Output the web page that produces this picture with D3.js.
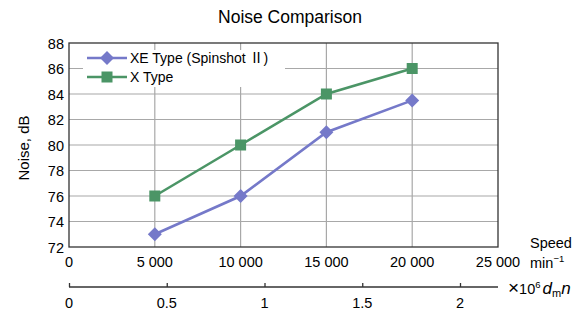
<!DOCTYPE html>
<html>
<head>
<meta charset="utf-8">
<script src="https://cdn.jsdelivr.net/npm/d3@7"></script>
<style>
  body { margin: 0; background: #fff; }
  svg { font-family: "Liberation Sans", Arial, sans-serif; }
</style>
</head>
<body>
<svg id="chart" width="585" height="313"></svg>
<script>
// data
const speeds = [5000, 10000, 15000, 20000];
const xeNoise = [73, 76, 81, 83.5];
const xNoise = [76, 80, 84, 86];
const speedTicks = [0, 5000, 10000, 15000, 20000, 25000];
const noiseTicks = [72, 74, 76, 78, 80, 82, 84, 86, 88];
const dmnTicks = [0, 0.5, 1, 1.5, 2];

const svg = d3.select('#chart');
const plotLeft = 69, plotRight = 498, plotTop = 43, plotBottom = 247;

const x = d3.scaleLinear().domain([0, 25000]).range([plotLeft, plotRight]);
const y = d3.scaleLinear().domain([72, 88]).range([plotBottom, plotTop]);
const x2 = d3.scaleLinear().domain([0, 2.2]).range([plotLeft, plotLeft + 2.2 * 195.5]);

const fmt = d => d3.format(',')(d).replace(',', ' ');

// title
svg.append('text')
    .attr('x', 290).attr('y', 23)
    .attr('text-anchor', 'middle')
    .attr('font-size', 17.5)
    .text('Noise Comparison');

// grid
svg.append('g').selectAll('line')
    .data(noiseTicks.slice(1, -1))
    .enter().append('line')
    .attr('x1', plotLeft).attr('x2', plotRight)
    .attr('y1', d => y(d)).attr('y2', d => y(d))
    .attr('stroke', '#a8a8a8').attr('stroke-width', 1.2);

svg.append('g').selectAll('line')
    .data(speedTicks.slice(1, -1))
    .enter().append('line')
    .attr('x1', d => x(d)).attr('x2', d => x(d))
    .attr('y1', plotTop).attr('y2', plotBottom)
    .attr('stroke', '#a8a8a8').attr('stroke-width', 1.2);

// legend box hides the grid behind it
svg.append('rect')
    .attr('x', 83).attr('y', 50)
    .attr('width', 202).attr('height', 37)
    .attr('fill', '#fff');

// frame
svg.append('rect')
    .attr('x', plotLeft).attr('y', plotTop)
    .attr('width', plotRight - plotLeft).attr('height', plotBottom - plotTop)
    .attr('fill', 'none').attr('stroke', '#333').attr('stroke-width', 1.3);

// y axis labels
svg.append('g').selectAll('text')
    .data(noiseTicks)
    .enter().append('text')
    .attr('x', 64).attr('y', d => y(d) + 5.5)
    .attr('text-anchor', 'end')
    .attr('font-size', 14.5)
    .text(d => d);

svg.append('text')
    .attr('transform', 'translate(29,148) rotate(-90)')
    .attr('text-anchor', 'middle')
    .attr('font-size', 15)
    .text('Noise, dB');

// x axis labels
svg.append('g').selectAll('text')
    .data(speedTicks)
    .enter().append('text')
    .attr('x', d => x(d)).attr('y', 267)
    .attr('text-anchor', 'middle')
    .attr('font-size', 14.5)
    .text(d => fmt(d));

svg.append('text')
    .attr('x', 530).attr('y', 248)
    .attr('font-size', 14.5)
    .text('Speed');

const minLabel = svg.append('text')
    .attr('x', 530).attr('y', 268)
    .attr('font-size', 14.5);
minLabel.append('tspan').text('min');
minLabel.append('tspan').attr('dy', -6).attr('font-size', 9.5).text('−1');

// second axis (dmn)
const axis2 = svg.append('g').attr('transform', 'translate(0,287)');
axis2.call(d3.axisTop(x2).tickValues(dmnTicks).tickSize(4).tickFormat(''));
axis2.select('.domain')
    .attr('d', `M${plotLeft},0H${plotRight}`)
    .attr('stroke', '#333').attr('stroke-width', 1.3);
axis2.selectAll('.tick line').attr('stroke', '#333').attr('stroke-width', 1.3);

svg.append('g').selectAll('text')
    .data(dmnTicks)
    .enter().append('text')
    .attr('x', d => x2(d)).attr('y', 308)
    .attr('text-anchor', 'middle')
    .attr('font-size', 14.5)
    .text(d => d);

const dmnLabel = svg.append('text')
    .attr('x', 508).attr('y', 294)
    .attr('font-size', 14.5);
dmnLabel.append('tspan').attr('font-size', 19).text('×');
dmnLabel.append('tspan').text('10');
dmnLabel.append('tspan').attr('dy', -6).attr('font-size', 9.5).text('6');
dmnLabel.append('tspan').attr('dy', 6).attr('dx', 2).attr('font-style', 'italic').attr('font-size', 17).text('d');
dmnLabel.append('tspan').attr('dy', 3).attr('font-size', 11).text('m');
dmnLabel.append('tspan').attr('dy', -3).attr('font-style', 'italic').attr('font-size', 17).text('n');

// series
const series = [
    { name: 'XE Type (Spinshot ', numeral: '\u2161', tail: ')', values: xeNoise, color: '#7579c9', marker: 'diamond' },
    { name: 'X Type', numeral: '', tail: '', values: xNoise, color: '#4b9566', marker: 'square' }
];

const line = d3.line().x(d => x(d[0])).y(d => y(d[1]));

function drawMarker(g, type, cx, cy, color) {
    if (type === 'diamond') {
        g.append('path')
            .attr('d', `M${cx},${cy - 7}L${cx + 7},${cy}L${cx},${cy + 7}L${cx - 7},${cy}Z`)
            .attr('fill', color);
    } else {
        g.append('rect')
            .attr('x', cx - 5.5).attr('y', cy - 5.5)
            .attr('width', 11).attr('height', 11)
            .attr('fill', color);
    }
}

series.forEach(s => {
    const pts = speeds.map((sp, i) => [sp, s.values[i]]);
    const g = svg.append('g');
    g.append('path')
        .attr('d', line(pts))
        .attr('fill', 'none')
        .attr('stroke', s.color)
        .attr('stroke-width', 2.6);
    pts.forEach(p => drawMarker(g, s.marker, x(p[0]), y(p[1]), s.color));
});

// legend
series.forEach((s, i) => {
    const ly = 58 + i * 19;
    const g = svg.append('g');
    g.append('line')
        .attr('x1', 87).attr('x2', 127)
        .attr('y1', ly).attr('y2', ly)
        .attr('stroke', s.color).attr('stroke-width', 2.6);
    drawMarker(g, s.marker, 107, ly, s.color);
    const t = g.append('text')
        .attr('x', 130).attr('y', ly + 5)
        .attr('font-size', 14);
    t.append('tspan').text(s.name);
    if (s.numeral) {
        t.append('tspan').attr('font-family', '"Noto Sans CJK JP"').text(s.numeral);
        t.append('tspan').text(s.tail);
    }
});
</script>
</body>
</html>
